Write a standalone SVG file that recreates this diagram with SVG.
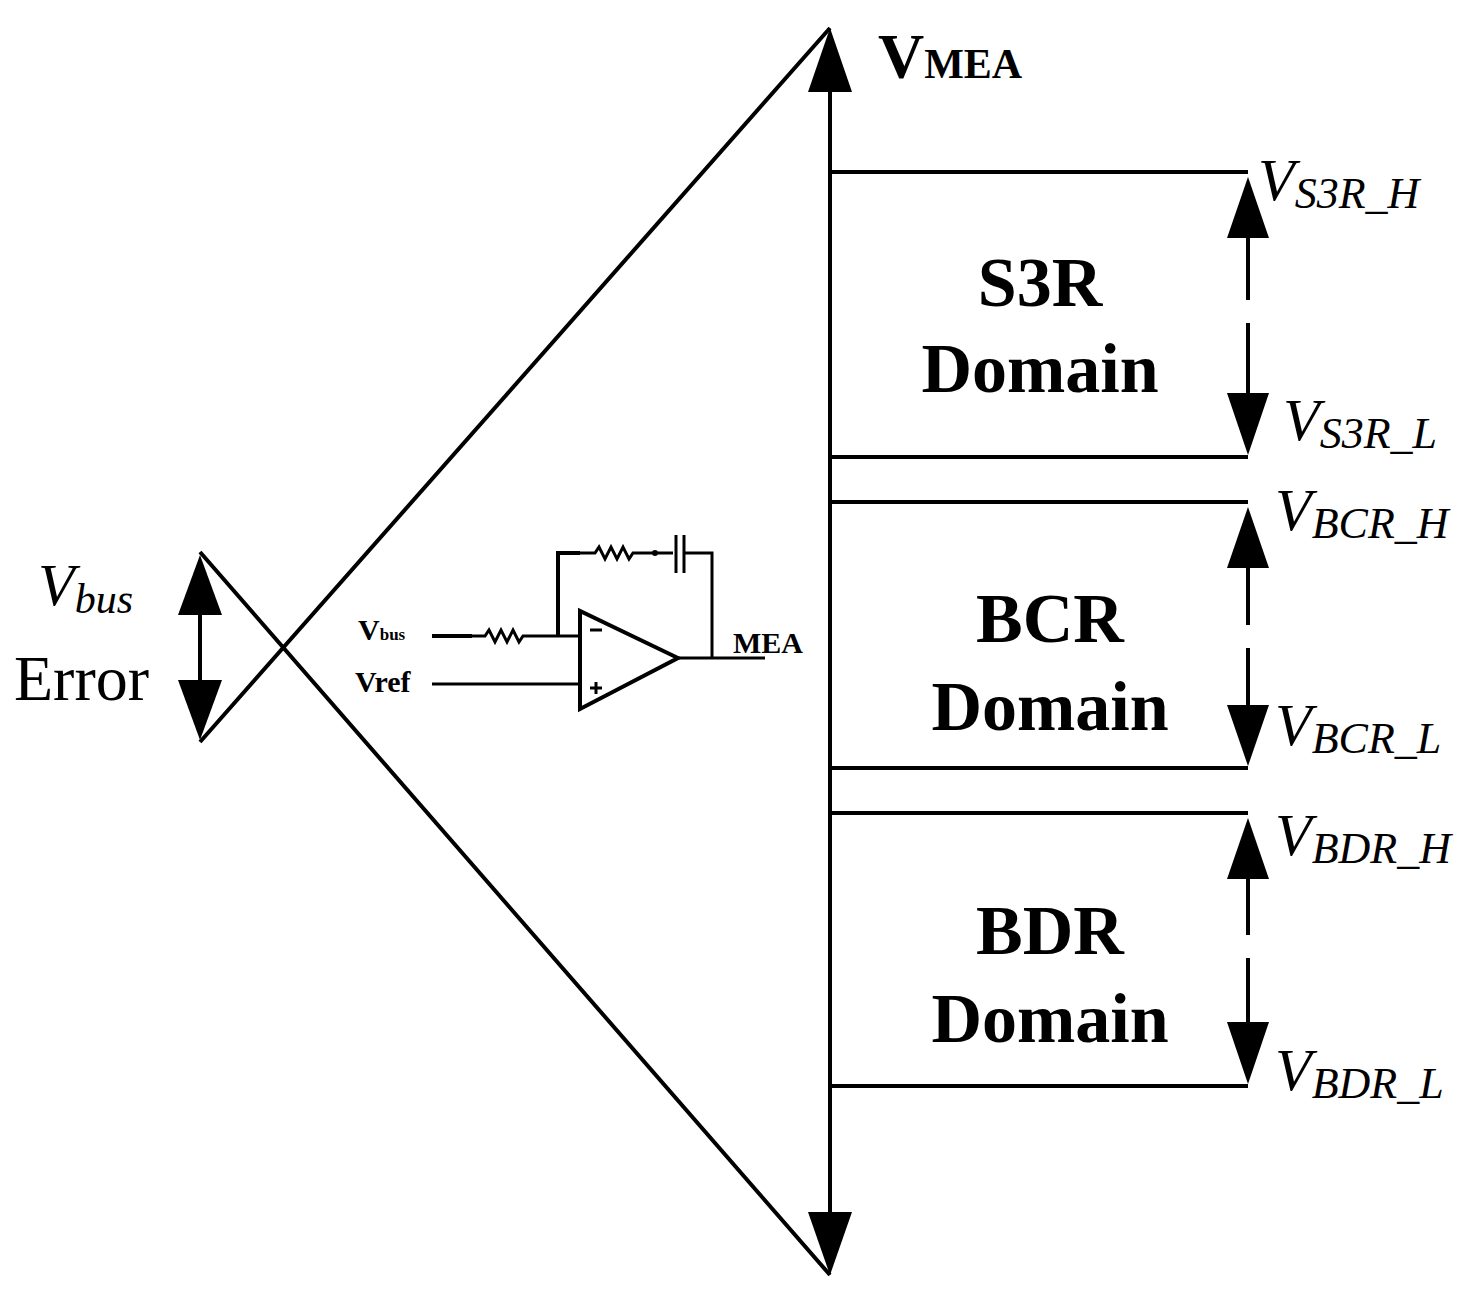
<svg xmlns="http://www.w3.org/2000/svg" width="1484" height="1300" viewBox="0 0 1484 1300">
<style>
.l{stroke:#000;stroke-width:4;fill:none}
.t{stroke:#000;stroke-width:3;fill:none}
.h{fill:#000}
.b{font-family:"Liberation Serif",serif;font-weight:bold;fill:#000}
.i{font-family:"Liberation Serif",serif;font-style:italic;fill:#000}
.n{font-family:"Liberation Serif",serif;fill:#000}
</style>
<rect width="1484" height="1300" fill="#fff"/>
<g id="connectors">
<path class="l" d="M200,552 L830,1275 M200,742 L830,28"/>
<path class="l" d="M200,600 V700"/>
<polygon class="h" points="200,555 178,615 222,615"/>
<polygon class="h" points="200,740 178,680 222,680"/>
<path class="l" d="M830,80 V1225"/>
<polygon class="h" points="830,28 808,92 852,92"/>
<polygon class="h" points="830,1275 808,1212 852,1212"/>
<path class="l" d="M830,172 H1248 M830,457 H1248 M830,502 H1248 M830,768 H1248 M830,813 H1248 M830,1086 H1248"/>
<path class="l" d="M1248,230 V300 M1248,323 V400"/>
<polygon class="h" points="1248,177 1227,238 1269,238"/>
<polygon class="h" points="1248,455 1227,393 1269,393"/>
<path class="l" d="M1248,560 V625 M1248,648 V710"/>
<polygon class="h" points="1248,507 1227,568 1269,568"/>
<polygon class="h" points="1248,766 1227,705 1269,705"/>
<path class="l" d="M1248,870 V935 M1248,958 V1022"/>
<polygon class="h" points="1248,818 1227,879 1269,879"/>
<polygon class="h" points="1248,1084 1227,1022 1269,1022"/>
</g>
<g id="opamp">
<polygon class="l" points="580,611 580,709 678,658"/>
<path class="l" d="M432,636 H472"/>
<path class="t" d="M472,636 H485 l4,-6 l6,12 l6,-12 l6,12 l6,-12 l6,12 l4,-6 H580"/>
<path class="l" d="M558,636 V553 H580"/>
<path class="t" d="M580,553 H595 l4,-6 l6,12 l6,-12 l6,12 l6,-12 l6,12 l4,-6 H673"/>
<circle cx="655" cy="553" r="3" class="h"/>
<path class="t" d="M676,535 V573 M684,535 V573 M684,553 H712 V658 M678,658 H765 M432,684 H580"/>
<path class="t" d="M590,630 H602 M590,688 H602 M596,682 V694"/>
<text class="b" x="358" y="640" font-size="30">V<tspan font-size="17">bus</tspan></text>
<text class="b" x="355" y="692" font-size="30">Vref</text>
<text class="b" x="733" y="653" font-size="30">MEA</text>
</g>
<g id="labels">
<text class="b" x="878" y="78" font-size="64">V<tspan font-size="42">MEA</tspan></text>
<text class="i" x="38" y="605" font-size="60">V<tspan font-size="42" dy="8">bus</tspan></text>
<text class="n" x="14" y="700" font-size="64">Error</text>
<text class="i" x="1258" y="200" font-size="60">V<tspan font-size="44" dy="8">S3R_H</tspan></text>
<text class="i" x="1283" y="440" font-size="60">V<tspan font-size="44" dy="8">S3R_L</tspan></text>
<text class="i" x="1275" y="530" font-size="60">V<tspan font-size="44" dy="8">BCR_H</tspan></text>
<text class="i" x="1275" y="745" font-size="60">V<tspan font-size="44" dy="8">BCR_L</tspan></text>
<text class="i" x="1275" y="855" font-size="60">V<tspan font-size="44" dy="8">BDR_H</tspan></text>
<text class="i" x="1275" y="1090" font-size="60">V<tspan font-size="44" dy="8">BDR_L</tspan></text>
</g>
<g id="s3r"><text class="b" x="1040" y="306" font-size="70" text-anchor="middle">S3R</text><text class="b" x="1040" y="392" font-size="70" text-anchor="middle">Domain</text></g>
<g id="bcr"><text class="b" x="1050" y="642" font-size="70" text-anchor="middle">BCR</text><text class="b" x="1050" y="730" font-size="70" text-anchor="middle">Domain</text></g>
<g id="bdr"><text class="b" x="1050" y="954" font-size="70" text-anchor="middle">BDR</text><text class="b" x="1050" y="1042" font-size="70" text-anchor="middle">Domain</text></g>
</svg>
